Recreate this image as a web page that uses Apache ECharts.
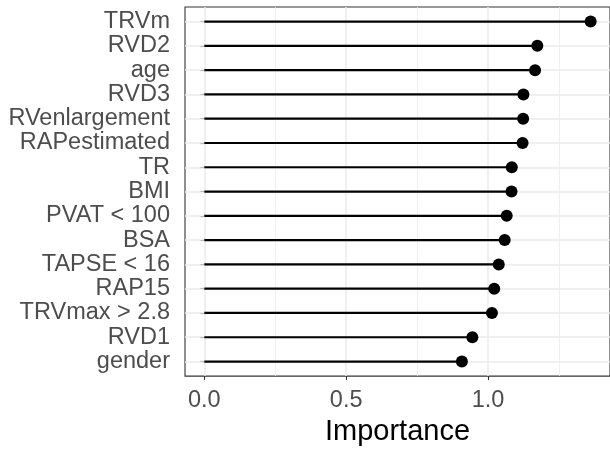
<!DOCTYPE html>
<html>
<head>
<meta charset="utf-8">
<script src="https://cdn.jsdelivr.net/npm/echarts@6/dist/echarts.min.js"></script>
<style>
html,body{margin:0;padding:0;background:#fff;}
#c{width:610px;height:451px;}
</style>
</head>
<body>
<div id="c"></div>
<script>
// Data (top to bottom)
const categories = ["TRVm","RVD2","age","RVD3","RVenlargement","RAPestimated","TR","BMI","PVAT < 100","BSA","TAPSE < 16","RAP15","TRVmax > 2.8","RVD1","gender"];
const importance = [1.362,1.174,1.166,1.125,1.124,1.122,1.084,1.083,1.066,1.059,1.038,1.022,1.014,0.945,0.908];
const xTickValues = [0, 0.5, 1.0];
const xMinorValues = [0.25, 0.75, 1.25];
const xAxisTitle = "Importance";

const positions = categories.map((c, i) => i + 1);
const points = importance.map((v, i) => [v, positions[i]]);

const xMin = -0.0681, xMax = 1.4302;
const FONT = "Liberation Sans, Arial, Helvetica, sans-serif";
const GRID = "#EBEBEB";

const gridLines = [];
xTickValues.forEach(v => gridLines.push({xAxis: v, lineStyle: {color: GRID, width: 1.5, type: 'solid'}}));
xMinorValues.forEach(v => gridLines.push({xAxis: v, lineStyle: {color: GRID, width: 0.8, type: 'solid'}}));
positions.forEach(p => gridLines.push({yAxis: p, lineStyle: {color: GRID, width: 1.5, type: 'solid'}}));

const chart = echarts.init(document.getElementById('c'), null, {renderer: 'canvas'});
chart.setOption({
  animation: false,
  backgroundColor: '#ffffff',
  grid: {
    left: 185, top: 7, width: 432.6, height: 372,
    show: true, borderColor: '#333333', borderWidth: 1.1, backgroundColor: 'transparent',
    containLabel: false
  },
  xAxis: {
    type: 'value', min: xMin, max: xMax,
    axisLine: {show: false},
    splitLine: {show: false},
    axisTick: {show: true, customValues: xTickValues, length: 4, lineStyle: {color: '#333333', width: 1.1}},
    axisLabel: {
      customValues: xTickValues, margin: 12,
      formatter: v => Number(v).toFixed(1),
      fontFamily: FONT, fontSize: 23.5, color: '#4D4D4D'
    },
    name: xAxisTitle, nameLocation: 'middle', nameGap: 38,
    nameTextStyle: {fontFamily: FONT, fontSize: 29, color: '#000000'}
  },
  yAxis: {
    type: 'value', min: 0.4, max: 15.6, inverse: true,
    axisLine: {show: false},
    splitLine: {show: false},
    axisTick: {show: true, customValues: positions, length: 4, lineStyle: {color: '#333333', width: 1.1}},
    axisLabel: {
      customValues: positions, margin: 15,
      formatter: v => categories[Math.round(v) - 1] || '',
      fontFamily: FONT, fontSize: 23.5, color: '#4D4D4D'
    }
  },
  series: [
    {
      type: 'scatter', data: [], z: 1, silent: true,
      markLine: {z: 1, zlevel: 0, silent: true, symbol: ['none','none'], label: {show: false}, animation: false, data: gridLines}
    },
    {
      type: 'custom', z: 3, data: points, silent: true,
      encode: {x: 0, y: 1},
      renderItem: function (params, api) {
        const y = api.value(1);
        const p0 = api.coord([0, y]);
        const p1 = api.coord([api.value(0), y]);
        return {type: 'line', z2: 10, shape: {x1: p0[0], y1: p0[1], x2: p1[0], y2: p1[1]}, style: {stroke: '#000000', lineWidth: 2.2, opacity: 1}};
      }
    },
    {
      type: 'scatter', z: 4, data: points, symbol: 'circle', symbolSize: 12, silent: true,
      itemStyle: {color: '#000000', opacity: 1}
    }
  ]
});
</script>
</body>
</html>
